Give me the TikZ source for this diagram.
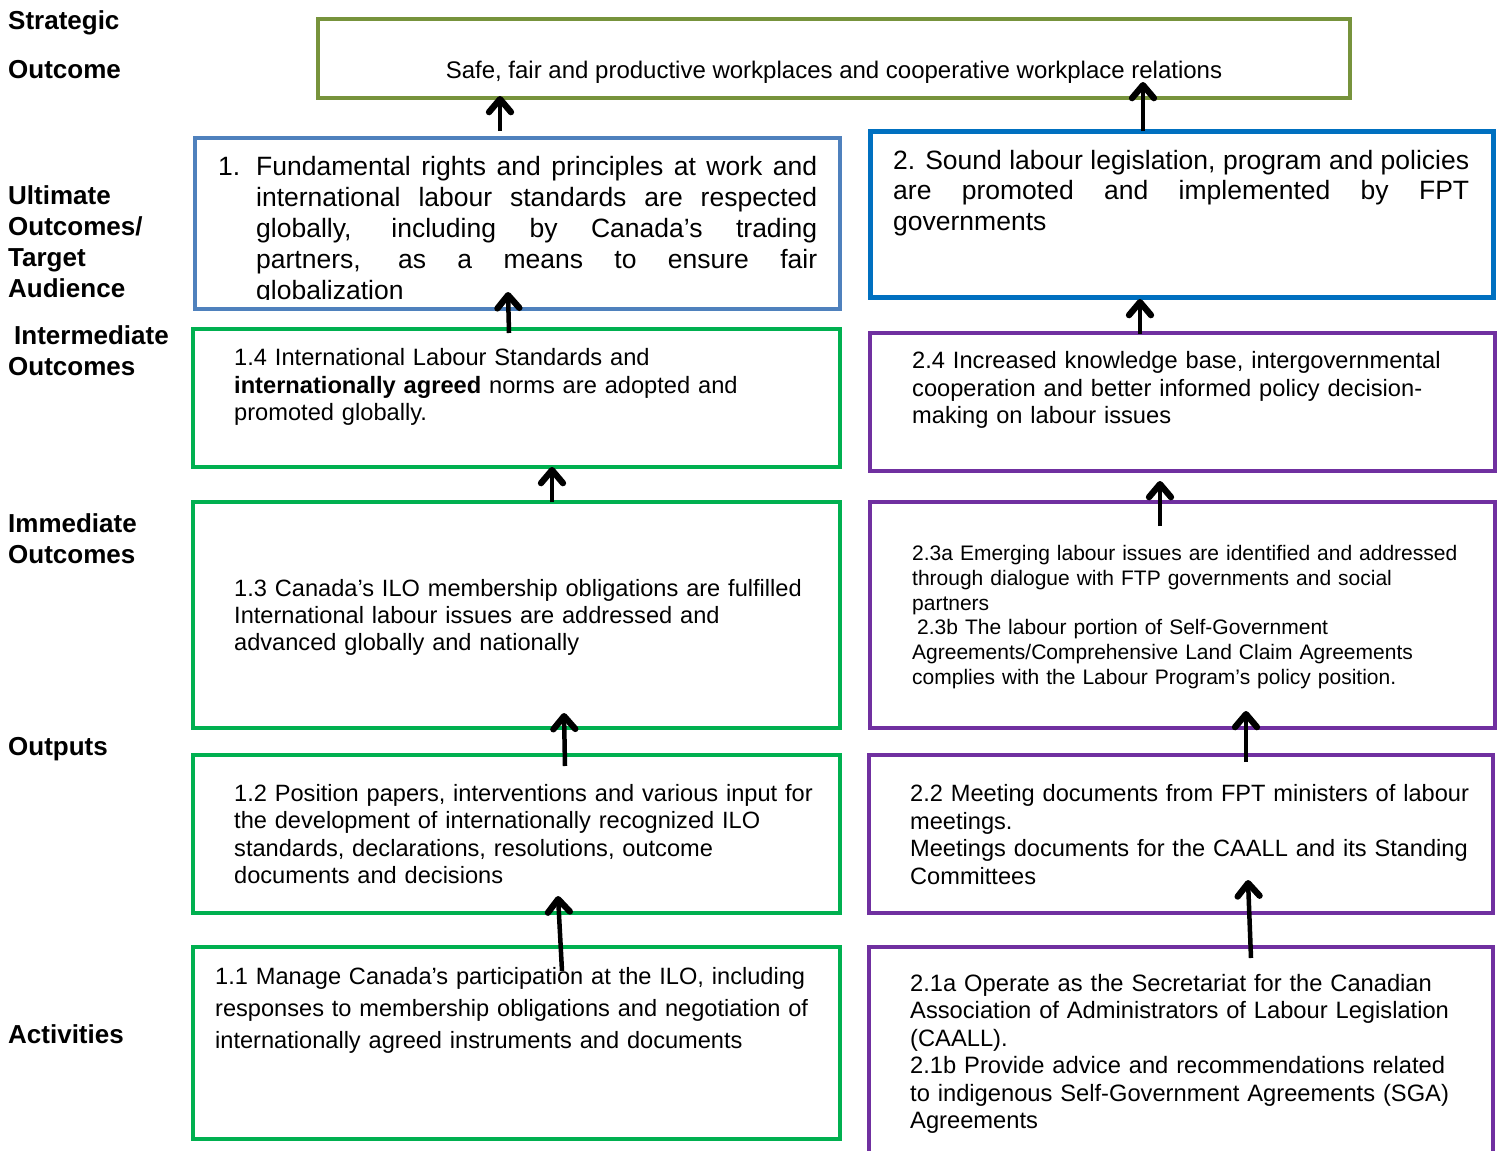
\documentclass[tikz,border=0pt]{standalone}
\usepackage{fontspec}
\setmainfont{Liberation Sans}
\usetikzlibrary{arrows.meta}
\definecolor{olivegreen}{HTML}{77933C}
\definecolor{softblue}{HTML}{4F81BD}
\definecolor{strongblue}{HTML}{0070C0}
\definecolor{boxgreen}{HTML}{00B050}
\definecolor{boxpurple}{HTML}{7030A0}
\begin{document}
\begin{tikzpicture}[x=1pt,y=-1pt,
  box/.style={draw=#1, line width=4.5pt, rectangle, inner sep=0pt, outer sep=0pt, anchor=north west, line join=miter},
  lbl/.style={anchor=base west, inner sep=0pt, text width=200pt, align=left, font=\fontsize{26}{31}\selectfont\bfseries},
  txt/.style={anchor=base west, inner sep=0pt, align=left},
  arr/.style={line width=4.5pt, -{Straight Barb[length=13pt,width=22pt,line width=0pt 1.4,round]}}]
\useasboundingbox (0,0) rectangle (1497,1151);
\clip (0,0) rectangle (1497,1151);
\fill[white] (0,0) rectangle (1497,1151);

% left labels
\node[lbl] (lso) at (8,29) {Strategic\\[18pt]Outcome};
\node[lbl] (luo) at (8,204) {Ultimate\\Outcomes/\\Target\\Audience};
\node[lbl] (lio) at (8,344) {\hspace*{6pt}Intermediate\\Outcomes};
\node[lbl] (limo) at (8,532) {Immediate\\Outcomes};
\node[lbl] (lout) at (8,755) {Outputs};
\node[lbl] (lact) at (8,1043) {Activities};

% boxes
\node[box=olivegreen, minimum width=1032pt, minimum height=79pt] (so) at (318,19) {};
\node[box=softblue, minimum width=645pt, minimum height=171pt] (b1) at (195,138) {};
\node[box=strongblue, line width=5pt, minimum width=623pt, minimum height=166pt] (b2) at (870,131) {};
\node[box=boxgreen, minimum width=647pt, minimum height=138pt] (b14) at (193,329) {};
\node[box=boxpurple, minimum width=625pt, minimum height=138pt] (b24) at (870,333) {};
\node[box=boxgreen, minimum width=647pt, minimum height=226pt] (b13) at (193,502) {};
\node[box=boxpurple, minimum width=625pt, minimum height=226pt] (b23) at (870,502) {};
\node[box=boxgreen, minimum width=647pt, minimum height=158pt] (b12) at (193,755) {};
\node[box=boxpurple, minimum width=624pt, minimum height=158pt] (b22) at (869,755) {};
\node[box=boxgreen, minimum width=647pt, minimum height=192pt] (b11) at (193,947) {};
\node[box=boxpurple, minimum width=624pt, minimum height=223pt] (b21) at (869,947) {};

% texts
\node[anchor=base, inner sep=0pt, font=\fontsize{24}{27.5}\selectfont] (tso) at (834,78) {Safe, fair and productive workplaces and cooperative workplace relations};

\begin{scope}
\clip (195,138) rectangle (840,299);
\node[anchor=base west, inner sep=0pt, font=\fontsize{26.5}{31}\selectfont] (t1) at (218,175)
 {\makebox[38pt][l]{1.}\parbox[t]{561pt}{\fontsize{26.5}{31}\selectfont Fundamental rights and principles at work and\linebreak international labour standards are respected\linebreak globally, including by Canada’s trading\linebreak partners, as a means to ensure fair\linebreak globalization}};
\end{scope}

\node[txt, text width=576pt, align=justify, font=\fontsize{26.5}{30.5}\selectfont] (t2) at (893,169)
 {2. Sound labour legislation, program and policies\linebreak are promoted and implemented by FPT\linebreak governments};

\node[txt, text width=590pt, font=\fontsize{23.65}{27.5}\selectfont] (t14) at (234,365.5)
 {1.4 International Labour Standards and\\\textbf{internationally agreed} norms are adopted and\\promoted globally.};

\node[txt, text width=575pt, font=\fontsize{23.65}{27.5}\selectfont] (t24) at (912,368.5)
 {2.4 Increased knowledge base, intergovernmental\\cooperation and better informed policy decision-\\making on labour issues};

\node[txt, text width=600pt, font=\fontsize{23.6}{27}\selectfont] (t13) at (234,596.5)
 {1.3 Canada’s ILO membership obligations are fulfilled\\International labour issues are addressed and\\advanced globally and nationally};

\node[txt, text width=580pt, font=\fontsize{21.0}{24.8}\selectfont] (t23) at (912,560.5)
 {2.3a Emerging labour issues are identified and addressed\\through dialogue with FTP governments and social\\partners\\\hspace*{5pt}2.3b The labour portion of Self-Government\\Agreements/Comprehensive Land Claim Agreements\\complies with the Labour Program’s policy position.};

\node[txt, text width=600pt, font=\fontsize{23.6}{27.3}\selectfont] (t12) at (234,801.5)
 {1.2 Position papers, interventions and various input for\\the development of internationally recognized ILO\\standards, declarations, resolutions, outcome\\documents and decisions};

\node[txt, text width=580pt, font=\fontsize{23.6}{27.7}\selectfont] (t22) at (910,801.5)
 {2.2 Meeting documents from FPT ministers of labour\\meetings.\\Meetings documents for the CAALL and its Standing\\Committees};

\node[txt, text width=615pt, font=\fontsize{23.6}{32}\selectfont] (t11) at (215,984.5)
 {1.1 Manage Canada’s participation at the ILO, including\\responses to membership obligations and negotiation of\\internationally agreed instruments and documents};

\node[txt, text width=580pt, font=\fontsize{23.7}{27.4}\selectfont] (t21) at (910,991.5)
 {2.1a Operate as the Secretariat for the Canadian\\Association of Administrators of Labour Legislation\\(CAALL).\\2.1b Provide advice and recommendations related\\to indigenous Self-Government Agreements (SGA)\\Agreements};

% arrow end points
\coordinate (a1s) at (500,131);  \coordinate (a1e) at (500,96);
\coordinate (a2s) at (1143,131); \coordinate (a2e) at (1143,82);
\coordinate (a3s) at (509,333);  \coordinate (a3e) at (508,292);
\coordinate (a4s) at (1140,334); \coordinate (a4e) at (1140,299);
\coordinate (a5s) at (552,502);  \coordinate (a5e) at (552,467);
\coordinate (a6s) at (1160,526); \coordinate (a6e) at (1160,481);
\coordinate (a7s) at (565,766);  \coordinate (a7e) at (564,713);
\coordinate (a8s) at (1246,762); \coordinate (a8e) at (1246,711);
\coordinate (a9s) at (562,971);  \coordinate (a9e) at (558,896);
\coordinate (a10s) at (1251,958); \coordinate (a10e) at (1248,880);

\draw[arr] (a1s) -- (a1e);
\draw[arr] (a2s) -- (a2e);
\draw[arr] (a3s) -- (a3e);
\draw[arr] (a4s) -- (a4e);
\draw[arr] (a5s) -- (a5e);
\draw[arr] (a6s) -- (a6e);
\draw[arr] (a7s) -- (a7e);
\draw[arr] (a8s) -- (a8e);
\draw[arr] (a9s) -- (a9e);
\draw[arr] (a10s) -- (a10e);
\end{tikzpicture}
\end{document}
